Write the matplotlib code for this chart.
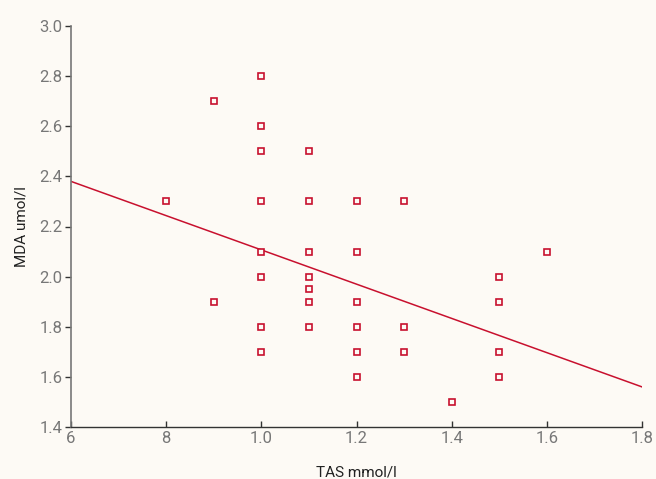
import matplotlib
matplotlib.use("Agg")
import matplotlib.pyplot as plt
from matplotlib.ticker import FixedLocator, FixedFormatter

tas = [0.8, 0.9, 0.9,
       1.0, 1.0, 1.0, 1.0, 1.0, 1.0, 1.0, 1.0,
       1.1, 1.1, 1.1, 1.1, 1.1, 1.1, 1.1,
       1.2, 1.2, 1.2, 1.2, 1.2, 1.2,
       1.3, 1.3, 1.3,
       1.4,
       1.5, 1.5, 1.5, 1.5,
       1.6]
mda = [2.3, 2.7, 1.9,
       2.8, 2.6, 2.5, 2.3, 2.1, 2.0, 1.8, 1.7,
       2.5, 2.3, 2.1, 2.0, 1.95, 1.9, 1.8,
       2.3, 2.1, 1.9, 1.8, 1.7, 1.6,
       2.3, 1.8, 1.7,
       1.5,
       2.0, 1.9, 1.7, 1.6,
       2.1]
fit_x = [0.6, 1.8]
fit_y = [2.38, 1.56]

x_ticks = [0.6, 0.8, 1.0, 1.2, 1.4, 1.6, 1.8]
x_labels = ["6", "8", "1.0", "1.2", "1.4", "1.6", "1.8"]
y_ticks = [1.4, 1.6, 1.8, 2.0, 2.2, 2.4, 2.6, 2.8, 3.0]
y_labels = ["1.4", "1.6", "1.8", "2.0", "2.2", "2.4", "2.6", "2.8", "3.0"]

bg = "#fdfaf5"
red = "#c8102e"
fam = ["Liberation Sans Narrow", "Roboto", "DejaVu Sans"]

fig = plt.figure(figsize=(6.56, 4.79), dpi=100, facecolor=bg)
ax = fig.add_axes([71/656, 52/479, (642-71)/656, (427-26)/479])
ax.set_facecolor(bg)

ax.plot(fit_x, fit_y, color=red, lw=1.1, zorder=2)
ax.plot(tas, mda, linestyle="none", marker="s", markersize=4.6,
        markerfacecolor=bg, markeredgecolor=red, markeredgewidth=1.2, zorder=3)

ax.set_xlim(0.6, 1.8)
ax.set_ylim(1.4, 3.0)
ax.xaxis.set_major_locator(FixedLocator(x_ticks))
ax.xaxis.set_major_formatter(FixedFormatter(x_labels))
ax.yaxis.set_major_locator(FixedLocator(y_ticks))
ax.yaxis.set_major_formatter(FixedFormatter(y_labels))

for s in ["top", "right"]:
    ax.spines[s].set_visible(False)
ax.spines["left"].set_color("#777777")
ax.spines["left"].set_linewidth(1.2)
ax.spines["bottom"].set_color("#333333")
ax.spines["bottom"].set_linewidth(1.0)

ax.tick_params(axis="x", direction="in", length=4, width=1, color="#333333",
               labelsize=12, labelcolor="#777777", pad=3)
ax.tick_params(axis="y", direction="out", length=4, width=1, color="#333333",
               labelsize=12, labelcolor="#777777", pad=2)
for lab in ax.get_xticklabels() + ax.get_yticklabels():
    lab.set_family(fam)

ax.set_xlabel("TAS mmol/l", fontsize=11, color="#222222", family=fam, labelpad=14)
ax.set_ylabel("MDA umol/l", fontsize=11, color="#222222", family=fam, labelpad=8)

fig.savefig("out.png", dpi=100, facecolor=bg)
